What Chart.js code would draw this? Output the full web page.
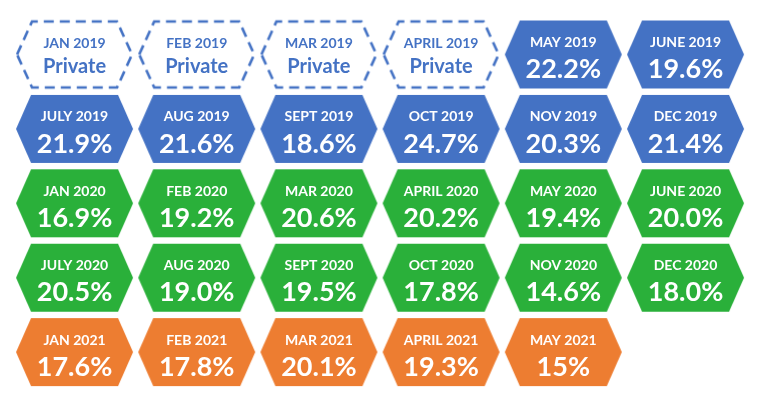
<!DOCTYPE html>
<html>
<head>
<meta charset="utf-8">
<script src="https://cdn.jsdelivr.net/npm/chart.js@4.4.1/dist/chart.umd.min.js"></script>
<style>
  html, body { margin: 0; padding: 0; background: #fff; }
  #wrap { width: 768px; height: 409px; }
</style>
</head>
<body>
<div id="wrap"><canvas id="hexChart"></canvas></div>
<script>
// one entry per month, read left to right, top to bottom
const months = [
  'JAN 2019', 'FEB 2019', 'MAR 2019', 'APRIL 2019', 'MAY 2019', 'JUNE 2019',
  'JULY 2019', 'AUG 2019', 'SEPT 2019', 'OCT 2019', 'NOV 2019', 'DEC 2019',
  'JAN 2020', 'FEB 2020', 'MAR 2020', 'APRIL 2020', 'MAY 2020', 'JUNE 2020',
  'JULY 2020', 'AUG 2020', 'SEPT 2020', 'OCT 2020', 'NOV 2020', 'DEC 2020',
  'JAN 2021', 'FEB 2021', 'MAR 2021', 'APRIL 2021', 'MAY 2021'
];
// null = private
const values = [
  null, null, null, null, '22.2', '19.6',
  '21.9', '21.6', '18.6', '24.7', '20.3', '21.4',
  '16.9', '19.2', '20.6', '20.2', '19.4', '20.0',
  '20.5', '19.0', '19.5', '17.8', '14.6', '18.0',
  '17.6', '17.8', '20.1', '19.3', '15'
];
const perRow = 6;
const yearColors = { '2019': '#4472C4', '2020': '#2AB03A', '2021': '#ED7D31' };

const HEX_W = 117, HEX_H = 68, HEX_INSET = 15;

function hexPath(ctx, x, y, w, h, inset) {
  ctx.beginPath();
  ctx.moveTo(x, y + h / 2);
  ctx.lineTo(x + inset, y);
  ctx.lineTo(x + w - inset, y);
  ctx.lineTo(x + w, y + h / 2);
  ctx.lineTo(x + w - inset, y + h);
  ctx.lineTo(x + inset, y + h);
  ctx.closePath();
}

function makeHex(color, dashed) {
  const c = document.createElement('canvas');
  c.width = HEX_W + 4;
  c.height = HEX_H + 4;
  const ctx = c.getContext('2d');
  if (dashed) {
    hexPath(ctx, 3, 3, HEX_W - 2, HEX_H - 2, HEX_INSET);
    ctx.setLineDash([10, 6]);
    ctx.lineWidth = 2.6;
    ctx.strokeStyle = color;
    ctx.stroke();
  } else {
    hexPath(ctx, 2, 2, HEX_W, HEX_H, HEX_INSET);
    ctx.fillStyle = color;
    ctx.fill();
  }
  return c;
}

const hexImages = {};
months.forEach((m, i) => {
  const yr = m.split(' ')[1];
  const key = yr + (values[i] === null ? '-d' : '');
  if (!hexImages[key]) hexImages[key] = makeHex(yearColors[yr], values[i] === null);
});

const points = months.map((m, i) => ({ x: i % perRow, y: Math.floor(i / perRow) }));
const styles = months.map((m, i) => hexImages[m.split(' ')[1] + (values[i] === null ? '-d' : '')]);

const hexLabels = {
  id: 'hexLabels',
  afterDatasetsDraw(chart) {
    const ctx = chart.ctx;
    const meta = chart.getDatasetMeta(0);
    ctx.save();
    ctx.textAlign = 'center';
    ctx.textBaseline = 'middle';
    meta.data.forEach((pt, i) => {
      const yr = months[i].split(' ')[1];
      if (values[i] === null) {
        ctx.fillStyle = yearColors[yr];
        ctx.font = 'bold 14px Lato, "Open Sans", sans-serif';
        ctx.fillText(months[i], pt.x, pt.y - 11);
        ctx.font = 'bold 20px Lato, "Open Sans", sans-serif';
        ctx.fillText('Private', pt.x, pt.y + 12);
      } else {
        ctx.fillStyle = '#ffffff';
        ctx.font = 'bold 14px Lato, "Open Sans", sans-serif';
        ctx.fillText(months[i], pt.x, pt.y - 12);
        ctx.font = 'bold 27px Lato, "Open Sans", sans-serif';
        ctx.fillText(values[i] + '%', pt.x, pt.y + 15);
      }
    });
    ctx.restore();
  }
};

new Chart(document.getElementById('hexChart'), {
  type: 'scatter',
  data: {
    datasets: [{
      data: points,
      pointStyle: styles,
      pointRadius: 30,
      pointHoverRadius: 30
    }]
  },
  options: {
    responsive: true,
    maintainAspectRatio: false,
    animation: false,
    events: [],
    layout: { padding: 0, autoPadding: false },
    plugins: {
      legend: { display: false },
      tooltip: { enabled: false }
    },
    scales: {
      x: { display: false, min: -0.6097, max: 5.675 },
      y: { display: false, reverse: true, min: -0.7325, max: 4.765 }
    }
  },
  plugins: [hexLabels]
});
</script>
</body>
</html>
